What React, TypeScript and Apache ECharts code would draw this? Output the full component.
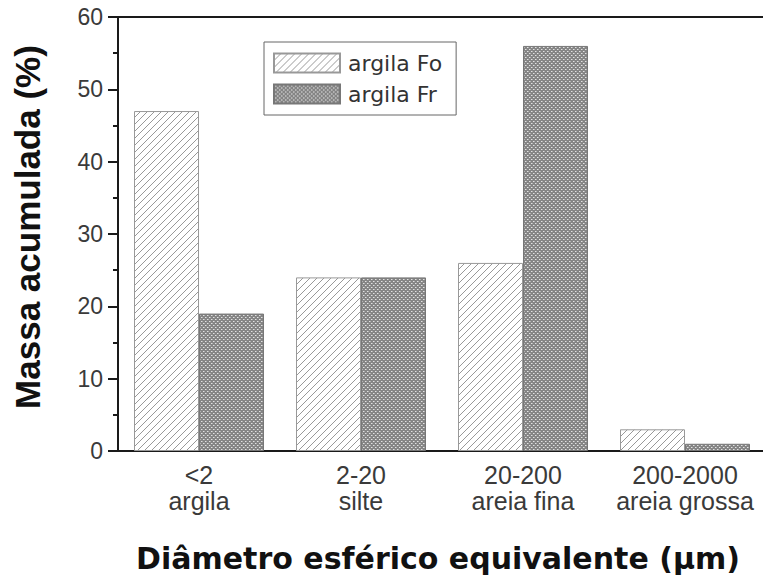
import React, { useEffect, useRef } from "react";
import * as echarts from "echarts";

const categories = ["<2\nargila", "2-20\nsilte", "20-200\nareia fina", "200-2000\nareia grossa"];
const seriesNames = ["argila Fo", "argila Fr"];
const foValues = [47, 24, 26, 3];
const frValues = [19, 24, 56, 1];
const yTicks = { min: 0, max: 60, interval: 10 };
const xTitle = "Diâmetro esférico equivalente (µm)";
const yTitle = "Massa acumulada (%)";

function makeHatch(): HTMLCanvasElement {
  const c = document.createElement("canvas");
  c.width = 7;
  c.height = 7;
  const ctx = c.getContext("2d")!;
  ctx.fillStyle = "#ffffff";
  ctx.fillRect(0, 0, 7, 7);
  ctx.strokeStyle = "#999999";
  ctx.lineWidth = 1;
  ctx.beginPath();
  ctx.moveTo(-1, 8);
  ctx.lineTo(8, -1);
  ctx.moveTo(-1, 1);
  ctx.lineTo(1, -1);
  ctx.moveTo(6, 8);
  ctx.lineTo(8, 6);
  ctx.stroke();
  return c;
}

function makeDots(): HTMLCanvasElement {
  const c = document.createElement("canvas");
  c.width = 4;
  c.height = 4;
  const ctx = c.getContext("2d")!;
  ctx.fillStyle = "#858585";
  ctx.fillRect(0, 0, 4, 4);
  ctx.fillStyle = "#e2e2e2";
  ctx.fillRect(1, 1, 1, 1);
  ctx.fillRect(3, 3, 1, 1);
  ctx.fillStyle = "#b4b4b4";
  ctx.fillRect(2, 1, 1, 1);
  ctx.fillRect(0, 3, 1, 1);
  return c;
}

export default function App() {
  const ref = useRef<HTMLDivElement>(null);
  useEffect(() => {
    if (!ref.current) return;
    const chart = echarts.init(ref.current, undefined, { renderer: "svg" });
    const hatch = makeHatch();
    const dots = makeDots();
    const font = '"Liberation Sans", Arial, sans-serif';
    chart.setOption({
      animation: false,
      backgroundColor: "#ffffff",
      textStyle: { fontFamily: font },
      grid: {
        left: 118,
        top: 17,
        right: 14,
        bottom: 127,
        show: true,
        borderColor: "#1a1a1a",
        borderWidth: 2,
        containLabel: false,
      },
      legend: {
        orient: "vertical",
        left: 264,
        top: 42,
        padding: [10, 14, 10, 9],
        itemWidth: 66,
        itemHeight: 19,
        itemGap: 9,
        icon: "rect",
        borderColor: "#666",
        borderWidth: 1,
        textStyle: { fontSize: 22, color: "#333", fontFamily: '"DejaVu Sans", sans-serif', padding: [0, 0, 0, 3] },
        data: seriesNames,
      },
      xAxis: {
        type: "category",
        data: categories,
        axisLine: { lineStyle: { color: "#1a1a1a", width: 2 } },
        axisTick: { alignWithLabel: true, interval: 0, length: 7, lineStyle: { color: "#1a1a1a", width: 2 } },
        axisLabel: { interval: 0, hideOverlap: false, fontSize: 25, color: "#3a3a3a", lineHeight: 26, margin: 11, fontFamily: font },
        splitLine: { show: false },
      },
      yAxis: {
        type: "value",
        min: yTicks.min,
        max: yTicks.max,
        interval: yTicks.interval,
        axisLine: { show: true, lineStyle: { color: "#1a1a1a", width: 2 } },
        axisTick: { show: true, length: 10, lineStyle: { color: "#1a1a1a", width: 2 } },
        minorTick: { show: true, splitNumber: 2, length: 5, lineStyle: { color: "#1a1a1a", width: 2 } },
        axisLabel: { fontSize: 23, color: "#3a3a3a", margin: 15, fontFamily: font },
        splitLine: { show: false },
      },
      graphic: [
        {
          type: "text",
          x: 27,
          y: 227,
          rotation: Math.PI / 2,
          style: {
            text: yTitle,
            font: 'bold 35px "Liberation Sans", Arial, sans-serif',
            fill: "#111",
            textAlign: "center",
            textVerticalAlign: "middle",
          },
        },
        {
          type: "text",
          x: 438,
          y: 558,
          style: {
            text: xTitle,
            font: 'bold 30px "DejaVu Sans", sans-serif',
            fill: "#111",
            textAlign: "center",
            textVerticalAlign: "middle",
          },
        },
      ],
      series: [
        {
          name: seriesNames[0],
          type: "bar",
          data: foValues,
          barWidth: 65,
          barGap: "0%",
          itemStyle: {
            color: { image: hatch, repeat: "repeat" },
            borderColor: "#999",
            borderWidth: 1,
          },
        },
        {
          name: seriesNames[1],
          type: "bar",
          data: frValues,
          barWidth: 65,
          barGap: "0%",
          itemStyle: {
            color: { image: dots, repeat: "repeat" },
            borderColor: "#777",
            borderWidth: 1,
          },
        },
      ],
    });
    return () => chart.dispose();
  }, []);
  return (
    <div
      ref={ref}
      style={{ position: "fixed", left: 0, top: 0, width: 780, height: 578, background: "#fff" }}
    />
  );
}
